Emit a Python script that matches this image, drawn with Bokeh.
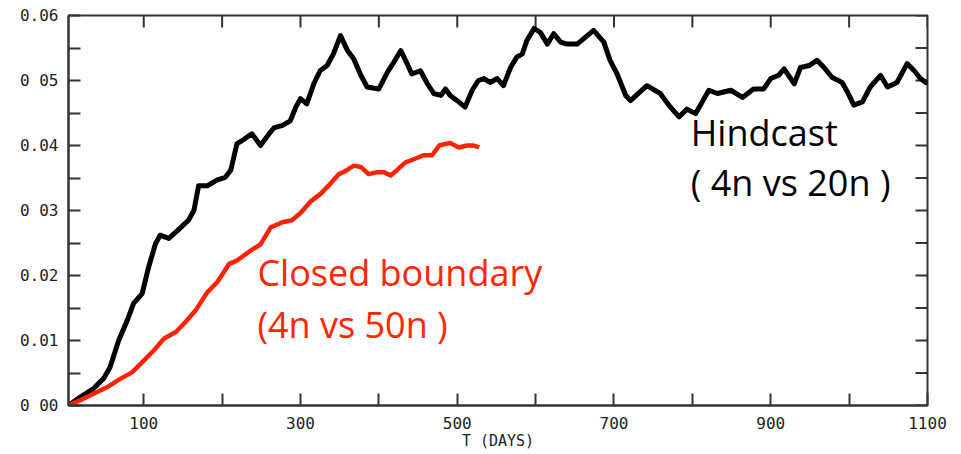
import math
from bokeh.plotting import figure
from bokeh.models import Range1d, FixedTicker, Label
from bokeh.embed import file_html
from bokeh.resources import INLINE

# ---- data ----
hind_t = [4, 19, 36, 49, 57, 68, 79, 87, 98, 106, 115, 121, 132, 143, 157, 164, 170, 181, 194, 204,
          211, 219, 226, 238, 249, 260, 266, 277, 287, 294, 300, 308, 317, 325, 334, 342, 351, 360,
          368, 377, 385, 400, 411, 419, 428, 436, 442, 453, 462, 470, 479, 485, 491, 500, 510, 519,
          527, 534, 542, 551, 559, 568, 576, 583, 589, 598, 606, 615, 623, 632, 640, 653, 661, 674,
          687, 695, 704, 715, 721, 742, 759, 772, 783, 793, 804, 821, 832, 849, 864, 878, 891, 900,
          910, 917, 930, 938, 949, 959, 968, 978, 991, 998, 1006, 1017, 1027, 1040, 1049, 1061,
          1074, 1083, 1091, 1100]
hind_v = [0.0, 0.0013, 0.0026, 0.0042, 0.0059, 0.0100, 0.0131, 0.0157, 0.0172, 0.0212, 0.0249,
          0.0262, 0.0257, 0.0269, 0.0285, 0.0300, 0.0338, 0.0338, 0.0347, 0.0351, 0.0362, 0.0403,
          0.0408, 0.0418, 0.0400, 0.0418, 0.0427, 0.0431, 0.0438, 0.0459, 0.0472, 0.0464, 0.0495,
          0.0515, 0.0523, 0.0541, 0.0569, 0.0546, 0.0533, 0.0508, 0.0490, 0.0487, 0.0513, 0.0528,
          0.0546, 0.0526, 0.0510, 0.0515, 0.0495, 0.0480, 0.0477, 0.0487, 0.0477, 0.0469, 0.0459,
          0.0485, 0.0500, 0.0503, 0.0497, 0.0503, 0.0492, 0.0520, 0.0536, 0.0541, 0.0562, 0.0580,
          0.0574, 0.0556, 0.0572, 0.0559, 0.0556, 0.0556, 0.0564, 0.0577, 0.0559, 0.0531, 0.0510,
          0.0477, 0.0469, 0.0492, 0.0480, 0.0459, 0.0444, 0.0456, 0.0449, 0.0485, 0.0480, 0.0485,
          0.0474, 0.0487, 0.0487, 0.0503, 0.0508, 0.0518, 0.0495, 0.0520, 0.0523, 0.0531, 0.0520,
          0.0505, 0.0497, 0.0482, 0.0462, 0.0467, 0.0490, 0.0508, 0.0490, 0.0497, 0.0526, 0.0515,
          0.0503, 0.0495]

closed_t = [4, 19, 36, 53, 70, 85, 100, 113, 126, 141, 153, 166, 181, 194, 209, 219, 236, 249,
            262, 277, 289, 300, 313, 326, 338, 349, 355, 368, 377, 387, 398, 406, 415, 423, 434,
            447, 457, 468, 477, 491, 502, 513, 521, 528]
closed_v = [0.0, 0.0008, 0.0018, 0.0028, 0.0041, 0.0051, 0.0069, 0.0085, 0.0103, 0.0113, 0.0128,
            0.0146, 0.0174, 0.0190, 0.0218, 0.0223, 0.0238, 0.0248, 0.0274, 0.0282, 0.0285,
            0.0296, 0.0314, 0.0326, 0.0341, 0.0356, 0.0359, 0.0369, 0.0367, 0.0356, 0.0359,
            0.0359, 0.0354, 0.0362, 0.0374, 0.0380, 0.0385, 0.0385, 0.0400, 0.0404, 0.0397,
            0.0400, 0.0400, 0.0397]

x_major = [100, 300, 500, 700, 900, 1100]
x_minor = [200, 400, 600, 800, 1000]
x_labels = ["100", "300", "500", "700", "900", "1100"]
y_major = [0.0, 0.01, 0.02, 0.03, 0.04, 0.05, 0.06]
y_minor = [0.005, 0.015, 0.025, 0.035, 0.045, 0.055]
y_labels = ["0 00", "0.01", "0.02", "0 03", "0.04", "0 05", "0.06"]

AX = "#333333"
TICKFONT = "DejaVu Sans Mono"
X0, X1 = 4, x_major[-1]
Y0, Y1 = y_major[0], y_major[-1]

p = figure(width=955, height=454, output_backend="svg", toolbar_location=None,
           x_range=Range1d(X0, X1), y_range=Range1d(Y0, Y1),
           min_border_left=68, min_border_right=28, min_border_top=15, min_border_bottom=49)
p.xgrid.visible = False
p.ygrid.visible = False
p.outline_line_color = AX
p.outline_line_width = 2
p.background_fill_color = "white"
p.border_fill_color = "white"

for ax in (p.xaxis[0], p.yaxis[0]):
    ax.axis_line_color = AX
    ax.axis_line_width = 2
    ax.major_tick_line_color = AX
    ax.minor_tick_line_color = AX
    ax.major_tick_line_width = 2
    ax.minor_tick_line_width = 2
    ax.major_tick_in = 12
    ax.major_tick_out = 0
    ax.minor_tick_in = 12
    ax.minor_tick_out = 0
    ax.major_label_text_font = TICKFONT
    ax.major_label_text_font_size = "16px"
    ax.major_label_text_color = "#222222"

p.xaxis.ticker = FixedTicker(ticks=x_major, minor_ticks=x_minor)
p.yaxis.ticker = FixedTicker(ticks=y_major, minor_ticks=y_minor)
p.xaxis.major_label_overrides = {t: s for t, s in zip(x_major, x_labels)}
p.yaxis.major_label_overrides = {t: s for t, s in zip(y_major, y_labels)}
p.xaxis.major_label_standoff = 11
p.yaxis.major_label_standoff = 10
p.xaxis.axis_label = "T (DAYS)"
p.xaxis.axis_label_text_font = TICKFONT
p.xaxis.axis_label_text_font_size = "15px"
p.xaxis.axis_label_text_font_style = "normal"
p.xaxis.axis_label_text_color = "#222222"
p.xaxis.axis_label_standoff = 0

# inward ticks on the top and right frame edges (clipped dashes centred on the edges)
xt_all = x_major + x_minor
yt_all = y_major + y_minor
p.scatter(xt_all, [Y1] * len(xt_all), marker="dash", angle=math.pi / 2, size=24,
          line_color=AX, line_width=2)
p.scatter([X1] * len(yt_all), yt_all, marker="dash", size=24, line_color=AX, line_width=2)

p.line(hind_t, hind_v, line_color="black", line_width=5, line_join="round")
p.line(closed_t, closed_v, line_color="#ff2200", line_width=4.5, line_join="round")

ann_font = "Open Sans"
p.add_layout(Label(x=798, y=0.0420, text="Hindcast", text_font=ann_font,
                   text_font_size="36px", text_color="black", text_baseline="alphabetic"))
p.add_layout(Label(x=798, y=0.0343, text="( 4n vs 20n )", text_font=ann_font,
                   text_font_size="36px", text_color="black", text_baseline="alphabetic"))
p.add_layout(Label(x=245, y=0.0204, text="Closed boundary", text_font=ann_font,
                   text_font_size="36px", text_color="#ff2600", text_baseline="alphabetic"))
p.add_layout(Label(x=245, y=0.0124, text="(4n vs 50n )", text_font=ann_font,
                   text_font_size="36px", text_color="#ff2600", text_baseline="alphabetic"))

open("out.html", "w").write(file_html(p, INLINE))
